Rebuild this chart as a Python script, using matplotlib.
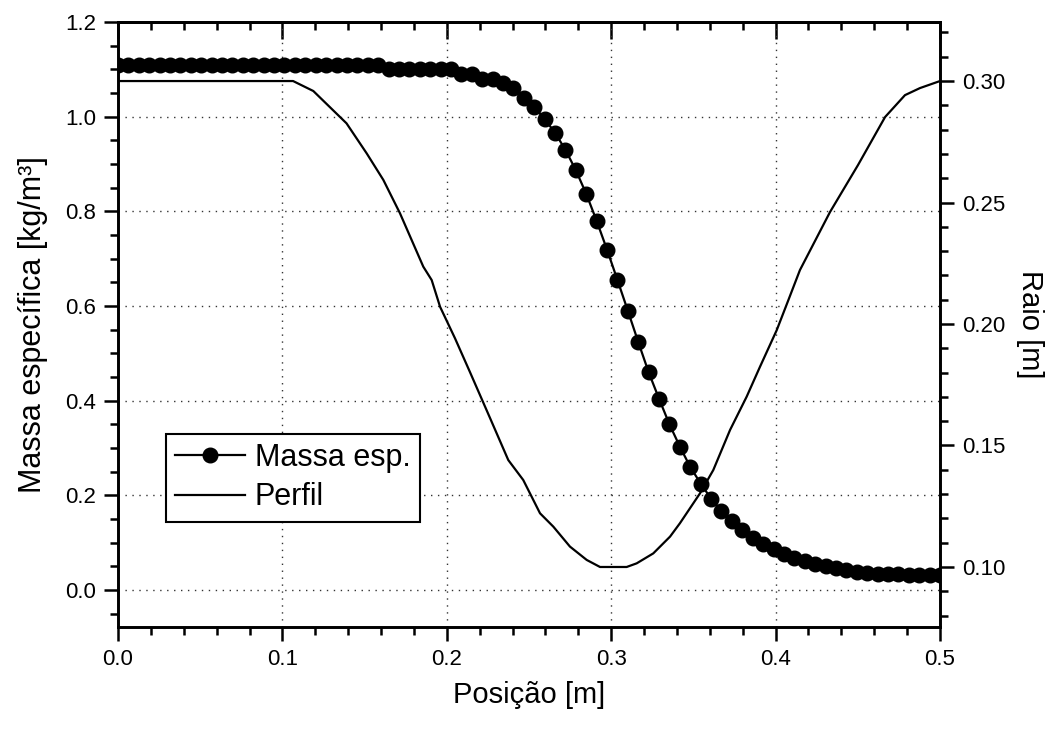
import numpy as np
import matplotlib
matplotlib.use("Agg")
import matplotlib.pyplot as plt
from matplotlib.ticker import MultipleLocator, FormatStrFormatter

plt.rcParams['font.family'] = ['Liberation Sans', 'DejaVu Sans']

# Density samples along the nozzle axis
posicao = np.linspace(0.0, 0.5, 80)
massa_esp = [1.11] * 26 + [1.10] * 7 + [
    1.091, 1.090, 1.080, 1.079, 1.071, 1.060, 1.040, 1.021, 0.995, 0.966,
    0.930, 0.887, 0.837, 0.780, 0.719, 0.655, 0.590, 0.524, 0.460, 0.404,
    0.350, 0.303, 0.260, 0.225, 0.193, 0.167, 0.145, 0.126, 0.110, 0.098,
    0.087, 0.077, 0.068, 0.061, 0.055, 0.050, 0.046, 0.042, 0.039, 0.037,
    0.035, 0.034, 0.033, 0.032, 0.031, 0.031, 0.031]

# Nozzle radius profile
perfil_x = [0.0, 0.1065, 0.1188, 0.139, 0.1513, 0.1614, 0.1715, 0.1857,
            0.1908, 0.1959, 0.205, 0.2141, 0.2263, 0.2374, 0.2465, 0.2567,
            0.2648, 0.2749, 0.2851, 0.2932, 0.3094, 0.3155, 0.3256, 0.3358,
            0.3418, 0.354, 0.3621, 0.3723, 0.3824, 0.3905, 0.4007, 0.4078,
            0.4148, 0.4331, 0.4501, 0.4666, 0.4787, 0.4878, 0.5]
perfil_r = [0.30, 0.30, 0.2959, 0.2826, 0.2702, 0.2593, 0.2456, 0.2236,
            0.2181, 0.2071, 0.1941, 0.1802, 0.1613, 0.1440, 0.1358, 0.1221,
            0.1166, 0.1084, 0.1029, 0.1000, 0.1000, 0.1015, 0.1056, 0.1125,
            0.1180, 0.1303, 0.1399, 0.1564, 0.1701, 0.1824, 0.1975, 0.2099,
            0.2222, 0.2461, 0.2654, 0.2852, 0.2942, 0.2971, 0.30]

fig = plt.figure(figsize=(10.61, 7.29), dpi=100)
ax = fig.add_axes([118 / 1061, 1 - 627 / 729, 822 / 1061, 605 / 729])
ax2 = ax.twinx()

spine_lw = 1.9
tick_fs = 16
label_fs = 21

l1, = ax.plot(posicao, massa_esp, color='black', lw=1.6, marker='o',
              markersize=10.5, label='Massa esp.', zorder=3)
l2, = ax2.plot(perfil_x, perfil_r, color='black', lw=1.6, label='Perfil',
               zorder=3)

ax.set_xlim(0.0, 0.5)
ax.set_ylim(-0.078, 1.2)
ax2.set_ylim(0.0753, 0.3243)

ax.xaxis.set_major_locator(MultipleLocator(0.1))
ax.xaxis.set_minor_locator(MultipleLocator(0.02))
ax.yaxis.set_major_locator(MultipleLocator(0.2))
ax.yaxis.set_minor_locator(MultipleLocator(0.05))
ax2.yaxis.set_major_locator(MultipleLocator(0.05))
ax2.yaxis.set_minor_locator(MultipleLocator(0.01))
ax.xaxis.set_major_formatter(FormatStrFormatter('%.1f'))
ax.yaxis.set_major_formatter(FormatStrFormatter('%.1f'))
ax2.yaxis.set_major_formatter(FormatStrFormatter('%.2f'))

ax.grid(True, which='major', color='#333333', linestyle=(0, (1, 4)),
        linewidth=1.0)

for a in (ax, ax2):
    for s in a.spines.values():
        s.set_linewidth(spine_lw)

ax.tick_params(axis='both', which='major', direction='out', length=10,
               width=1.8, labelsize=tick_fs, pad=6)
ax.tick_params(axis='both', which='minor', direction='out', length=6,
               width=1.8)
ax2.tick_params(axis='y', which='major', direction='out', length=10,
                width=1.8, labelsize=tick_fs, pad=6)
ax2.tick_params(axis='y', which='minor', direction='out', length=6,
                width=1.8)

# Top axis: inward ticks, no labels
top = ax.secondary_xaxis('top')
top.xaxis.set_major_locator(MultipleLocator(0.1))
top.xaxis.set_minor_locator(MultipleLocator(0.02))
top.tick_params(which='major', direction='in', length=12, width=1.8,
                labeltop=False)
top.tick_params(which='minor', direction='in', length=6, width=1.8)
top.spines['top'].set_linewidth(spine_lw)

ax.set_xlabel('Posição [m]', fontsize=label_fs, labelpad=8)
ax.set_ylabel('Massa específica [kg/m³]', fontsize=22, labelpad=12)
ax2.set_ylabel('Raio [m]', fontsize=label_fs, rotation=-90, labelpad=28)

leg = ax.legend([l1, l2], ['Massa esp.', 'Perfil'], loc='upper left',
                bbox_to_anchor=(0.0584, 0.319), borderaxespad=0.0,
                fontsize=22, frameon=True, fancybox=False,
                edgecolor='black', framealpha=1.0, handlelength=2.3,
                handletextpad=0.3, labelspacing=0.3, borderpad=0.3,
                numpoints=1)
leg.get_frame().set_linewidth(1.5)
leg.set_zorder(10)

fig.savefig('out.png', dpi=100)
